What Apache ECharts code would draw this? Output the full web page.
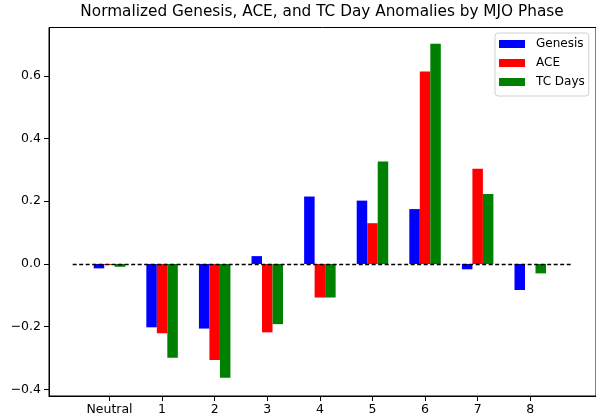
<!DOCTYPE html>
<html>
<head>
<meta charset="utf-8">
<script src="https://cdn.jsdelivr.net/npm/echarts@6/dist/echarts.min.js"></script>
<style>html,body{margin:0;padding:0;background:#fff;}#c{width:596px;height:419px;}</style>
</head>
<body>
<div id="c"></div>
<script>
const categories = ['Neutral', '1', '2', '3', '4', '5', '6', '7', '8'];
const genesis = [-0.014, -0.202, -0.206, 0.025, 0.215, 0.202, 0.175, -0.017, -0.083];
const ace     = [-0.003, -0.221, -0.306, -0.218, -0.107, 0.130, 0.614, 0.304, 0.000];
const tcDays  = [-0.009, -0.299, -0.363, -0.192, -0.107, 0.327, 0.702, 0.223, -0.030];
const yTicks = [-0.4, -0.2, 0.0, 0.2, 0.4, 0.6];
const refLine = [-0.7, 8.8];

const FONT = 'DejaVu Sans';
const idx = categories.map((c, i) => i);
const toPairs = arr => arr.map((v, i) => [i, v]);

const chart = echarts.init(document.getElementById('c'), null, {renderer: 'canvas'});
chart.setOption({
  animation: false,
  backgroundColor: '#fff',
  title: {
    text: 'Normalized Genesis, ACE, and TC Day Anomalies by MJO Phase',
    left: 322, top: 5, padding: 0, textAlign: 'center',
    textStyle: {fontFamily: FONT, fontSize: 15.3, fontWeight: 'normal', color: '#000'}
  },
  legend: {
    orient: 'vertical',
    left: 495, top: 33,
    padding: [5, 4, 8, 4],
    itemWidth: 26, itemHeight: 8, itemGap: 7,
    icon: 'rect',
    borderColor: '#d0d0d0', borderWidth: 1, borderRadius: 3,
    backgroundColor: 'rgba(255,255,255,0.85)',
    textStyle: {fontFamily: FONT, fontSize: 12, color: '#000', lineHeight: 12, padding: [0, 0, 0, 6]},
    data: ['Genesis', 'ACE', 'TC Days']
  },
  grid: {
    left: 49, right: -3, top: 27.5, bottom: 23,
    show: true, borderColor: '#000', borderWidth: 1, backgroundColor: 'transparent'
  },
  xAxis: {
    type: 'value', min: -1.15, max: 9.25,
    splitLine: {show: false},
    axisLine: {show: true, onZero: false, lineStyle: {color: '#000', width: 1}},
    axisTick: {show: true, length: 5, lineStyle: {color: '#000'}, customValues: idx},
    axisLabel: {
      customValues: idx, margin: 7,
      fontFamily: FONT, fontSize: 12.5, color: '#000',
      formatter: v => categories[Math.round(v)]
    }
  },
  yAxis: {
    type: 'value', min: -0.421, max: 0.754,
    splitLine: {show: false},
    axisLine: {show: true, onZero: false, lineStyle: {color: '#000', width: 1}},
    axisTick: {show: true, length: 5, lineStyle: {color: '#000'}, customValues: yTicks},
    axisLabel: {
      customValues: yTicks, margin: 8,
      fontFamily: FONT, fontSize: 12.5, color: '#000',
      formatter: v => v.toFixed(1).replace('-', '\u2212')
    }
  },
  series: [
    {name: 'Genesis', type: 'bar', data: toPairs(genesis), barWidth: 10.5, barGap: '0%', itemStyle: {color: '#0000ff'}},
    {
      name: 'ACE', type: 'bar', data: toPairs(ace),
      barWidth: 10.5, barGap: '0%',
      itemStyle: {color: '#ff0000'},
      markLine: {
        silent: true, symbol: 'none', label: {show: false},
        lineStyle: {color: '#000', type: [4, 2.5], width: 1.3, opacity: 1},
        emphasis: {disabled: true},
        data: [[{coord: [refLine[0], 0]}, {coord: [refLine[1], 0]}]],
        z: 10
      }
    },
    {name: 'TC Days', type: 'bar', data: toPairs(tcDays), barWidth: 10.5, barGap: '0%', itemStyle: {color: '#008000'}}
  ]
});
</script>
</body>
</html>
